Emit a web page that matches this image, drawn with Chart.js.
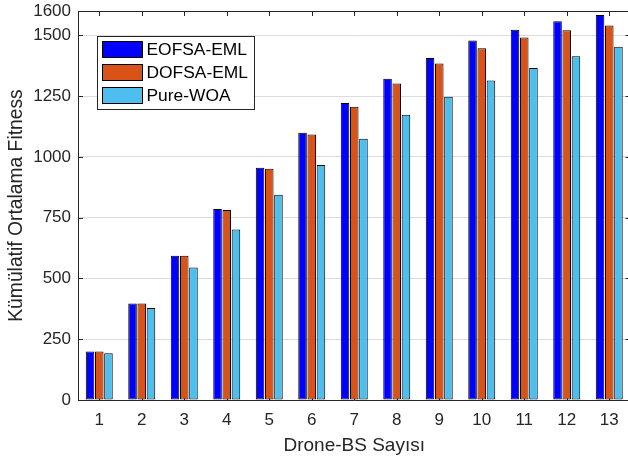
<!DOCTYPE html>
<html>
<head>
<meta charset="utf-8">
<style>
  html, body { margin: 0; padding: 0; background: #fff; overflow: hidden; }
  canvas { display: block; }
</style>
<script src="https://cdn.jsdelivr.net/npm/chart.js@4/dist/chart.umd.min.js"></script>
</head>
<body>
<canvas id="c" width="640" height="461"></canvas>
<script>
// Number of drone base stations
const categories = ['1', '2', '3', '4', '5', '6', '7', '8', '9', '10', '11', '12', '13'];

// Cumulative average fitness per method
const eofsaEml = [200, 397, 593, 786, 955, 1099, 1222, 1321, 1407, 1479, 1523, 1558, 1584];
const dofsaEml = [199, 397, 593, 781, 951, 1092, 1206, 1302, 1384, 1447, 1491, 1521, 1540];
const pureWoa  = [192, 378, 545, 701, 844, 967, 1075, 1173, 1247, 1314, 1366, 1414, 1453];

const seriesNames = ['EOFSA-EML', 'DOFSA-EML', 'Pure-WOA'];
const yTickValues = [0, 250, 500, 750, 1000, 1250, 1500, 1600];

const FONT = '"Liberation Sans", Arial, Helvetica, sans-serif';
const AXIS_COLOR = '#262626';

// Axes box, inward tick marks (drawn beneath the bars)
const axesBox = {
  id: 'axesBox',
  beforeDatasetsDraw(chart) {
    const { ctx, chartArea: a, scales } = chart;
    ctx.save();
    ctx.strokeStyle = AXIS_COLOR;
    ctx.lineWidth = 1;
    ctx.beginPath();
    ctx.moveTo(a.left + 0.5, a.bottom + 0.5);
    ctx.lineTo(a.left + 0.5, a.top + 0.5);
    ctx.lineTo(a.right, a.top + 0.5);
    ctx.lineTo(a.right, a.bottom + 0.5);
    ctx.lineTo(a.left, a.bottom + 0.5);
    yTickValues.forEach(v => {
      const y = Math.round(scales.y.getPixelForValue(v)) + 0.5;
      ctx.moveTo(a.left, y); ctx.lineTo(a.left + 5, y);
      ctx.moveTo(a.right - 5, y); ctx.lineTo(a.right, y);
    });
    categories.forEach((c, i) => {
      const x = Math.round(scales.x.getPixelForValue(i)) + 0.5;
      ctx.moveTo(x, a.top); ctx.lineTo(x, a.top + 5);
      ctx.moveTo(x, a.bottom); ctx.lineTo(x, a.bottom - 5);
    });
    ctx.stroke();
    ctx.restore();
  }
};

// Boxed legend in the upper-left corner of the plot
const boxLegend = {
  id: 'boxLegend',
  afterDraw(chart) {
    const { ctx } = chart;
    const x0 = 97, y0 = 36, w = 157, h = 73;
    ctx.save();
    ctx.fillStyle = '#fff';
    ctx.fillRect(x0, y0, w, h);
    ctx.strokeStyle = AXIS_COLOR;
    ctx.lineWidth = 1;
    ctx.strokeRect(x0 + 0.5, y0 + 0.5, w, h);
    ctx.font = '17.4px ' + FONT;
    ctx.textBaseline = 'middle';
    ctx.textAlign = 'left';
    chart.data.datasets.forEach((ds, i) => {
      const sy = 41 + i * 23;
      ctx.fillStyle = ds.backgroundColor;
      ctx.fillRect(102, sy, 41, 17);
      ctx.strokeStyle = '#000';
      ctx.strokeRect(102.5, sy + 0.5, 40, 16);
      ctx.fillStyle = '#000';
      ctx.fillText(ds.label, 146.5, sy + 9);
    });
    ctx.restore();
  }
};

const colors = ['#0000FF', '#D95319', '#4DBEEE'];
const values = [eofsaEml, dofsaEml, pureWoa];

new Chart(document.getElementById('c'), {
  type: 'bar',
  data: {
    labels: categories,
    datasets: values.map((vals, i) => ({
      label: seriesNames[i],
      data: vals,
      backgroundColor: colors[i],
      borderColor: '#000',
      borderWidth: 1,
      borderSkipped: false,
      categoryPercentage: 0.65,
      barPercentage: 0.93
    }))
  },
  options: {
    responsive: false,
    animation: false,
    devicePixelRatio: 1,
    layout: { padding: { left: 0, right: 9.5, top: 11, bottom: 4 } },
    plugins: {
      legend: { display: false },
      tooltip: { enabled: false }
    },
    scales: {
      x: {
        grid: { display: false, drawTicks: false },
        border: { display: false },
        ticks: { color: AXIS_COLOR, font: { family: FONT, size: 17 }, padding: 10, maxRotation: 0 },
        title: {
          display: true,
          text: 'Drone-BS Sayısı',
          color: AXIS_COLOR,
          font: { family: FONT, size: 19 },
          padding: { top: 0, bottom: 0 }
        },
        afterFit(scale) {
          scale.height = 57;
          scale.paddingLeft = 0;
          scale.paddingRight = 0;
        }
      },
      y: {
        min: 0,
        max: 1600,
        afterBuildTicks(scale) { scale.ticks = yTickValues.map(v => ({ value: v })); },
        grid: {
          drawTicks: false,
          color: ctx => (ctx.tick && (ctx.tick.value === 0 || ctx.tick.value === 1600)) ? 'rgba(0,0,0,0)' : '#dcdcdc',
          lineWidth: 1
        },
        border: { display: false },
        ticks: {
          color: AXIS_COLOR,
          font: { family: FONT, size: 17 },
          padding: 7,
          callback: v => String(v)
        },
        title: {
          display: true,
          text: 'Kümülatif Ortalama Fitness',
          color: AXIS_COLOR,
          font: { family: FONT, size: 19.3 },
          padding: { top: 5, bottom: 0 }
        },
        afterFit(scale) {
          scale.width = 78;
          scale.paddingTop = 0;
          scale.paddingBottom = 0;
        }
      }
    }
  },
  plugins: [axesBox, boxLegend]
});
</script>
</body>
</html>
